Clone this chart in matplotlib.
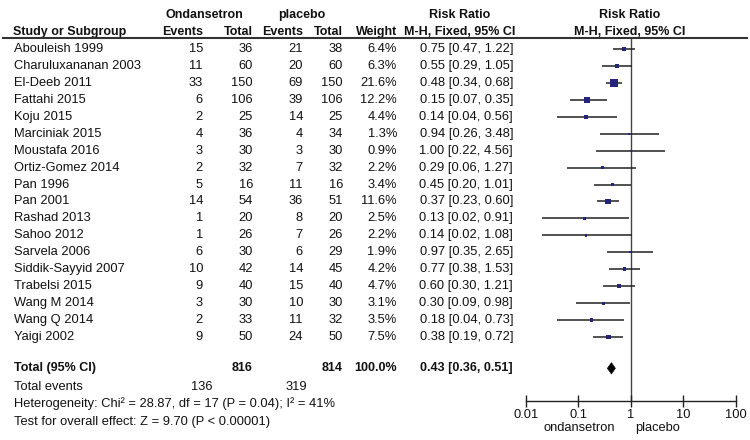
import matplotlib
matplotlib.use("Agg")
import matplotlib.pyplot as plt
import matplotlib.transforms as mtransforms
from matplotlib.patches import Polygon
from matplotlib.lines import Line2D
from matplotlib.ticker import NullLocator

studies = ["Abouleish 1999", "Charuluxananan 2003", "El-Deeb 2011", "Fattahi 2015",
           "Koju 2015", "Marciniak 2015", "Moustafa 2016", "Ortiz-Gomez 2014",
           "Pan 1996", "Pan 2001", "Rashad 2013", "Sahoo 2012", "Sarvela 2006",
           "Siddik-Sayyid 2007", "Trabelsi 2015", "Wang M 2014", "Wang Q 2014",
           "Yaigi 2002"]
ev1 = [15, 11, 33, 6, 2, 4, 3, 2, 5, 14, 1, 1, 6, 10, 9, 3, 2, 9]
tot1 = [36, 60, 150, 106, 25, 36, 30, 32, 16, 54, 20, 26, 30, 42, 40, 30, 33, 50]
ev2 = [21, 20, 69, 39, 14, 4, 3, 7, 11, 36, 8, 7, 6, 14, 15, 10, 11, 24]
tot2 = [38, 60, 150, 106, 25, 34, 30, 32, 16, 51, 20, 26, 29, 45, 40, 30, 32, 50]
weight = [6.4, 6.3, 21.6, 12.2, 4.4, 1.3, 0.9, 2.2, 3.4, 11.6, 2.5, 2.2, 1.9, 4.2, 4.7, 3.1, 3.5, 7.5]
rr = [0.75, 0.55, 0.48, 0.15, 0.14, 0.94, 1.00, 0.29, 0.45, 0.37, 0.13, 0.14, 0.97, 0.77, 0.60, 0.30, 0.18, 0.38]
lo = [0.47, 0.29, 0.34, 0.07, 0.04, 0.26, 0.22, 0.06, 0.20, 0.23, 0.02, 0.02, 0.35, 0.38, 0.30, 0.09, 0.04, 0.19]
hi = [1.22, 1.05, 0.68, 0.35, 0.56, 3.48, 4.56, 1.27, 1.01, 0.60, 0.91, 1.08, 2.65, 1.53, 1.21, 0.98, 0.73, 0.72]

total_n1, total_n2 = 816, 814
total_ev1, total_ev2 = 136, 319
total_weight = 100.0
total_rr, total_lo, total_hi = 0.43, 0.36, 0.51
heterogeneity = "Heterogeneity: Chi\u00b2 = 28.87, df = 17 (P = 0.04); I\u00b2 = 41%"
overall = "Test for overall effect: Z = 9.70 (P < 0.00001)"
tick_vals = [0.01, 0.1, 1, 10, 100]
tick_labels = ["0.01", "0.1", "1", "10", "100"]

plt.rcParams['font.family'] = ['Liberation Sans', 'DejaVu Sans']
W, H = 750, 440
fig = plt.figure(figsize=(7.5, 4.4), dpi=100)
fig.patch.set_facecolor('white')

# forest axes in pixel geometry
x0, x1 = 525.7, 735.7
ytop, ybot = 38.3, 401.0
row0_px, row_h = 49.0, 16.94
ax = fig.add_axes([x0 / W, 1 - ybot / H, (x1 - x0) / W, (ybot - ytop) / H])
ax.set_xscale('log')
ax.set_xlim(0.01, 100)
ax.set_ylim((ybot - row0_px) / row_h, (ytop - row0_px) / row_h)
for s in ['top', 'left', 'right']:
    ax.spines[s].set_visible(False)
ax.spines['bottom'].set_color('#222222')
ax.spines['bottom'].set_linewidth(1.0)
ax.set_xticks(tick_vals)
ax.set_xticklabels(tick_labels)
ax.xaxis.set_minor_locator(NullLocator())
ax.tick_params(axis='x', direction='inout', length=8, width=1, color='#222222',
               labelsize=9.3, pad=1.5, labelcolor='#111111')
ax.set_yticks([])
ax.patch.set_alpha(0)

rows = list(range(len(studies)))
ax.axvline(1, color='#444444', lw=1.0, zorder=1)
ax.hlines(rows, lo, hi, color='#222222', lw=1.1, zorder=2)
sizes = [((1.7 * w ** 0.5) * 0.72) ** 2 for w in weight]
ax.scatter(rr, rows, marker='s', s=sizes, color='#24247a', zorder=3, linewidths=0)

total_row = 18.85
dh = 0.33
ax.add_patch(Polygon([(total_lo, total_row), (total_rr, total_row - dh),
                      (total_hi, total_row), (total_rr, total_row + dh)],
                     closed=True, facecolor='black', edgecolor='black', lw=0.5, zorder=3))

trans = mtransforms.blended_transform_factory(fig.transFigure, ax.transData)


def tx(xpx, row, s, ha='left', bold=False):
    ax.text(xpx / W, row, s, transform=trans, ha=ha, va='center',
            fontsize=9.0 if bold else 9.3,
            fontweight='bold' if bold else 'normal', color='#111111', clip_on=False)


# headers
tx(204, -2.0, "Ondansetron", ha='center', bold=True)
tx(302, -2.0, "placebo", ha='center', bold=True)
tx(460, -2.0, "Risk Ratio", ha='center', bold=True)
tx(630, -2.0, "Risk Ratio", ha='center', bold=True)
tx(13, -1.0, "Study or Subgroup", bold=True)
tx(203, -1.0, "Events", ha='right', bold=True)
tx(253, -1.0, "Total", ha='right', bold=True)
tx(303, -1.0, "Events", ha='right', bold=True)
tx(343, -1.0, "Total", ha='right', bold=True)
tx(397, -1.0, "Weight", ha='right', bold=True)
tx(460, -1.0, "M-H, Fixed, 95% CI", ha='center', bold=True)
tx(630, -1.0, "M-H, Fixed, 95% CI", ha='center', bold=True)

fig.add_artist(Line2D([3 / W, 747 / W], [1 - 38.3 / H, 1 - 38.3 / H],
                      transform=fig.transFigure, color='#333333', lw=1.5))

for i, name in enumerate(studies):
    tx(14, i, name)
    tx(203, i, str(ev1[i]), ha='right')
    tx(253, i, str(tot1[i]), ha='right')
    tx(303, i, str(ev2[i]), ha='right')
    tx(343, i, str(tot2[i]), ha='right')
    tx(397, i, f"{weight[i]:.1f}%", ha='right')
    tx(513, i, f"{rr[i]:.2f} [{lo[i]:.2f}, {hi[i]:.2f}]", ha='right')

tx(14, total_row, "Total (95% CI)", bold=True)
tx(253, total_row, str(total_n1), ha='right', bold=True)
tx(343, total_row, str(total_n2), ha='right', bold=True)
tx(397, total_row, f"{total_weight:.1f}%", ha='right', bold=True)
tx(513, total_row, f"{total_rr:.2f} [{total_lo:.2f}, {total_hi:.2f}]", ha='right', bold=True)

tx(14, 19.95, "Total events")
tx(202, 19.95, str(total_ev1), ha='center')
tx(296, 19.95, str(total_ev2), ha='center')
tx(14, 20.95, heterogeneity)
tx(14, 22.0, overall)

tx(615, 22.37, "ondansetron", ha='right')
tx(635, 22.37, "placebo", ha='left')

fig.savefig("out.png", dpi=100, facecolor='white')
